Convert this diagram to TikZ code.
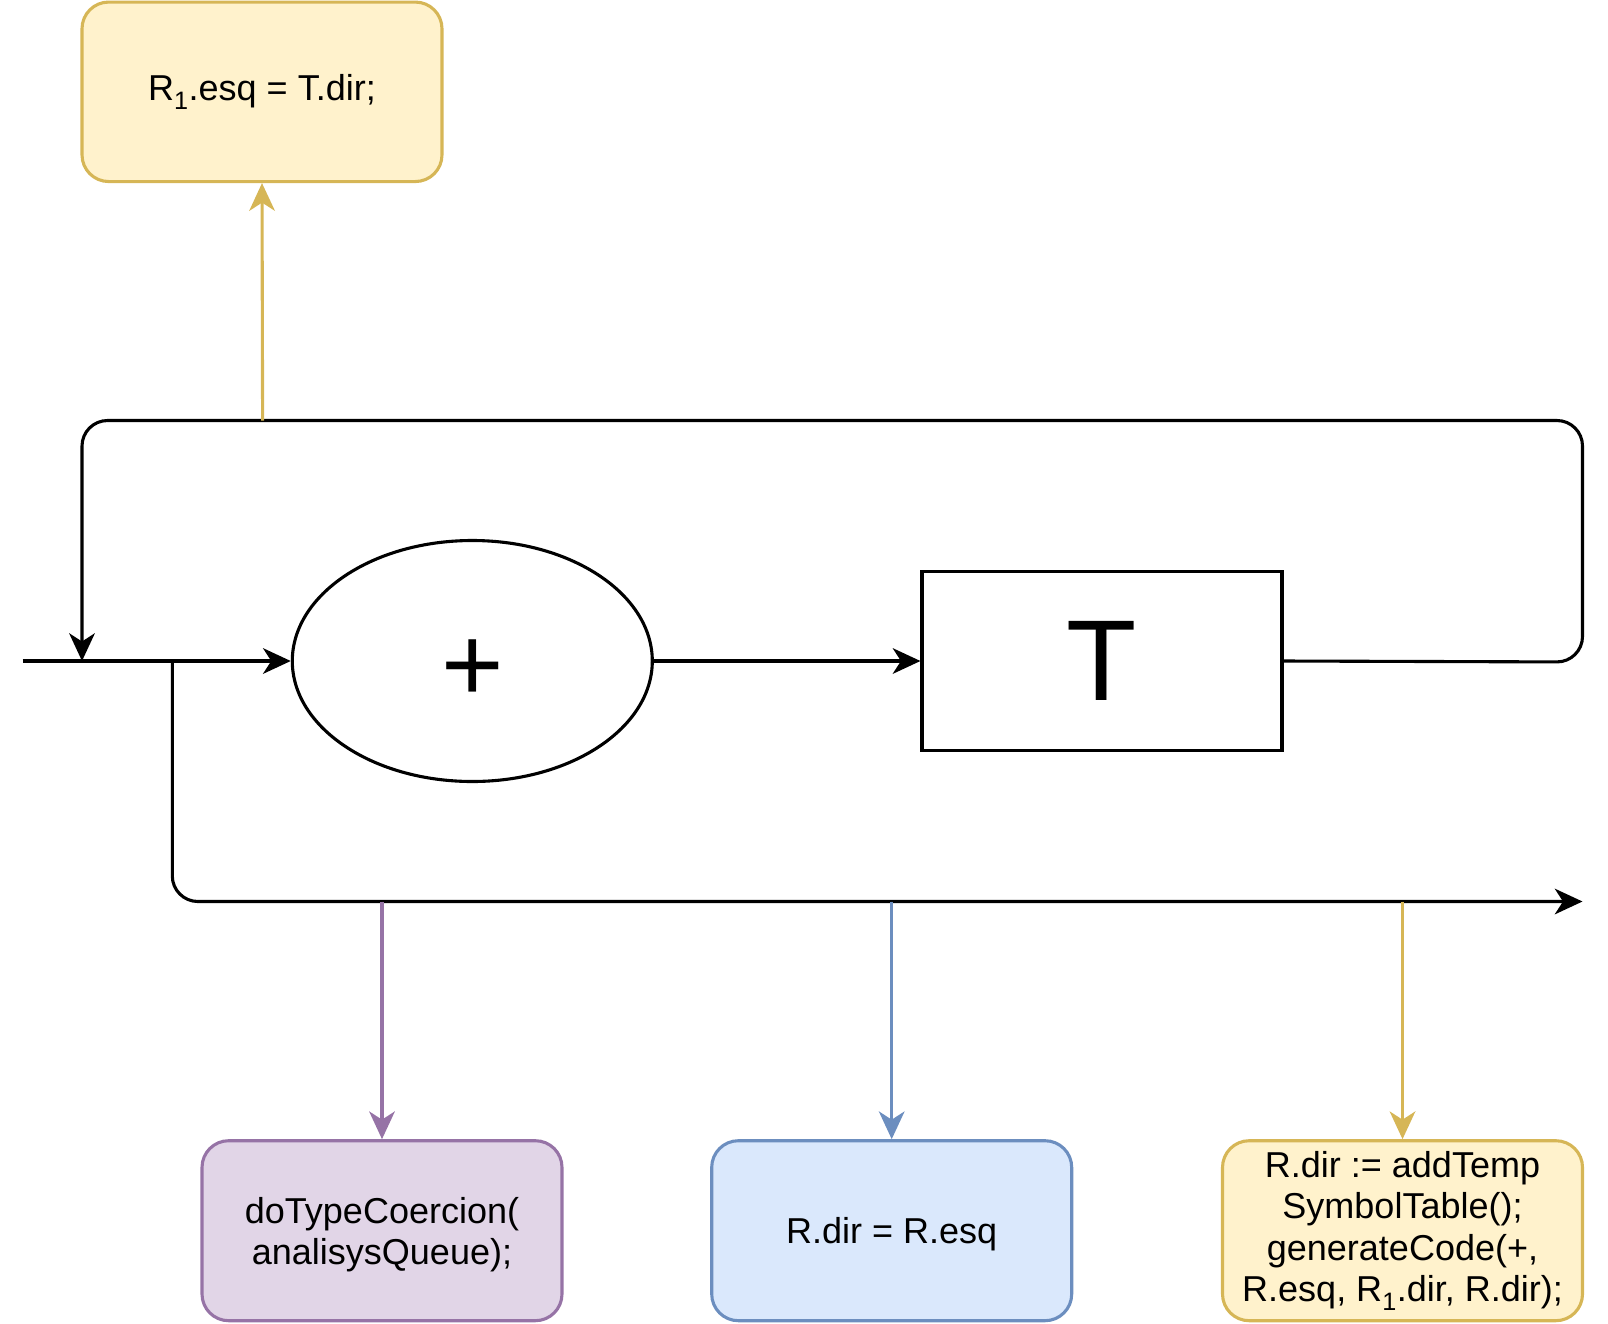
\documentclass[tikz,border=0pt]{standalone}
\usepackage{fontspec}
\setmainfont{Liberation Sans}
\usetikzlibrary{arrows.meta,shapes.geometric}
\definecolor{ylwfill}{HTML}{FFF2CC}
\definecolor{ylwline}{HTML}{D6B656}
\definecolor{purfill}{HTML}{E1D5E7}
\definecolor{purline}{HTML}{9673A6}
\definecolor{blufill}{HTML}{DAE8FC}
\definecolor{bluline}{HTML}{6C8EBF}
\tikzset{
  conn/.style={line width=3.1pt},
  tip/.style={-{Stealth[length=27.7pt,width=25.6pt,inset=8.2pt]}},
  arr/.style={conn,tip},
  note/.style={rectangle,rounded corners=26.7pt,line width=3.1pt,minimum width=360pt,minimum height=180pt,align=center,inner sep=0pt,font=\fontsize{36}{41.5}\selectfont},
  ynote/.style={note,draw=ylwline,fill=ylwfill},
  pnote/.style={note,draw=purline,fill=purfill,text depth=0pt},
  bnote/.style={note,draw=bluline,fill=blufill,text depth=0pt}
}
\begin{document}
\begin{tikzpicture}[x=1pt,y=-1pt]
\useasboundingbox (0,0) rectangle (1608,1323);
% nodes
\node[ynote,minimum height=179.5pt] (top) at (262,91.8) {R\textsubscript{1}.esq = T.dir;};
\node[ellipse,draw,line width=3.1pt,minimum width=360pt,minimum height=241pt,inner sep=0pt,text height=80pt,text depth=0pt,font=\fontsize{107}{120}\selectfont] (plus) at (472.3,661) {+};
\node[rectangle,draw,line width=3.1pt,minimum width=360pt,minimum height=179.5pt,inner sep=0pt,font=\fontsize{115}{125}\selectfont] (T) at (1102,661) {T};
\node[pnote] (pbox) at (382,1230.7) {doTypeCoercion(\\analisysQueue);};
\node[bnote] (bbox) at (891.7,1230.7) {R.dir = R.esq};
\node[ynote] (ybox) at (1402.5,1230.7) {R.dir := addTemp\\SymbolTable();\\generateCode(+,\\R.esq, R\textsubscript{1}.dir, R.dir);};
% coordinates
\coordinate (in) at (22.6,661);
\coordinate (merge) at (82,661);
\coordinate (branch) at (172.3,661);
\coordinate (rb) at (1582.5,662);
\coordinate (rt) at (1582.5,420.5);
\coordinate (lt) at (82,420.5);
\coordinate (tap) at (262.6,420.5);
\coordinate (bl) at (172.3,901.5);
\coordinate (out) at (1582.5,901.5);
\coordinate (t1) at (382,901.5);
\coordinate (t2) at (891.7,901.5);
\coordinate (t3) at (1402.5,901.5);
% connectors
\draw[conn] (in) -- (merge);
\draw[arr] (merge) -- (plus.west);
\draw[arr] (plus.east) -- (T.west);
\draw[arr,rounded corners=25.6pt] (T.east) -- (rb) -- (rt) -- (lt) -- (merge);
\draw[arr,rounded corners=25.6pt] (branch) -- (bl) -- (out);
\draw[arr,draw=ylwline,fill=ylwline] (tap) -- (top.south);
\draw[arr,draw=purline,fill=purline] (t1) -- (pbox.north);
\draw[arr,draw=bluline,fill=bluline] (t2) -- (bbox.north);
\draw[arr,draw=ylwline,fill=ylwline] (t3) -- (ybox.north);
\end{tikzpicture}
\end{document}
